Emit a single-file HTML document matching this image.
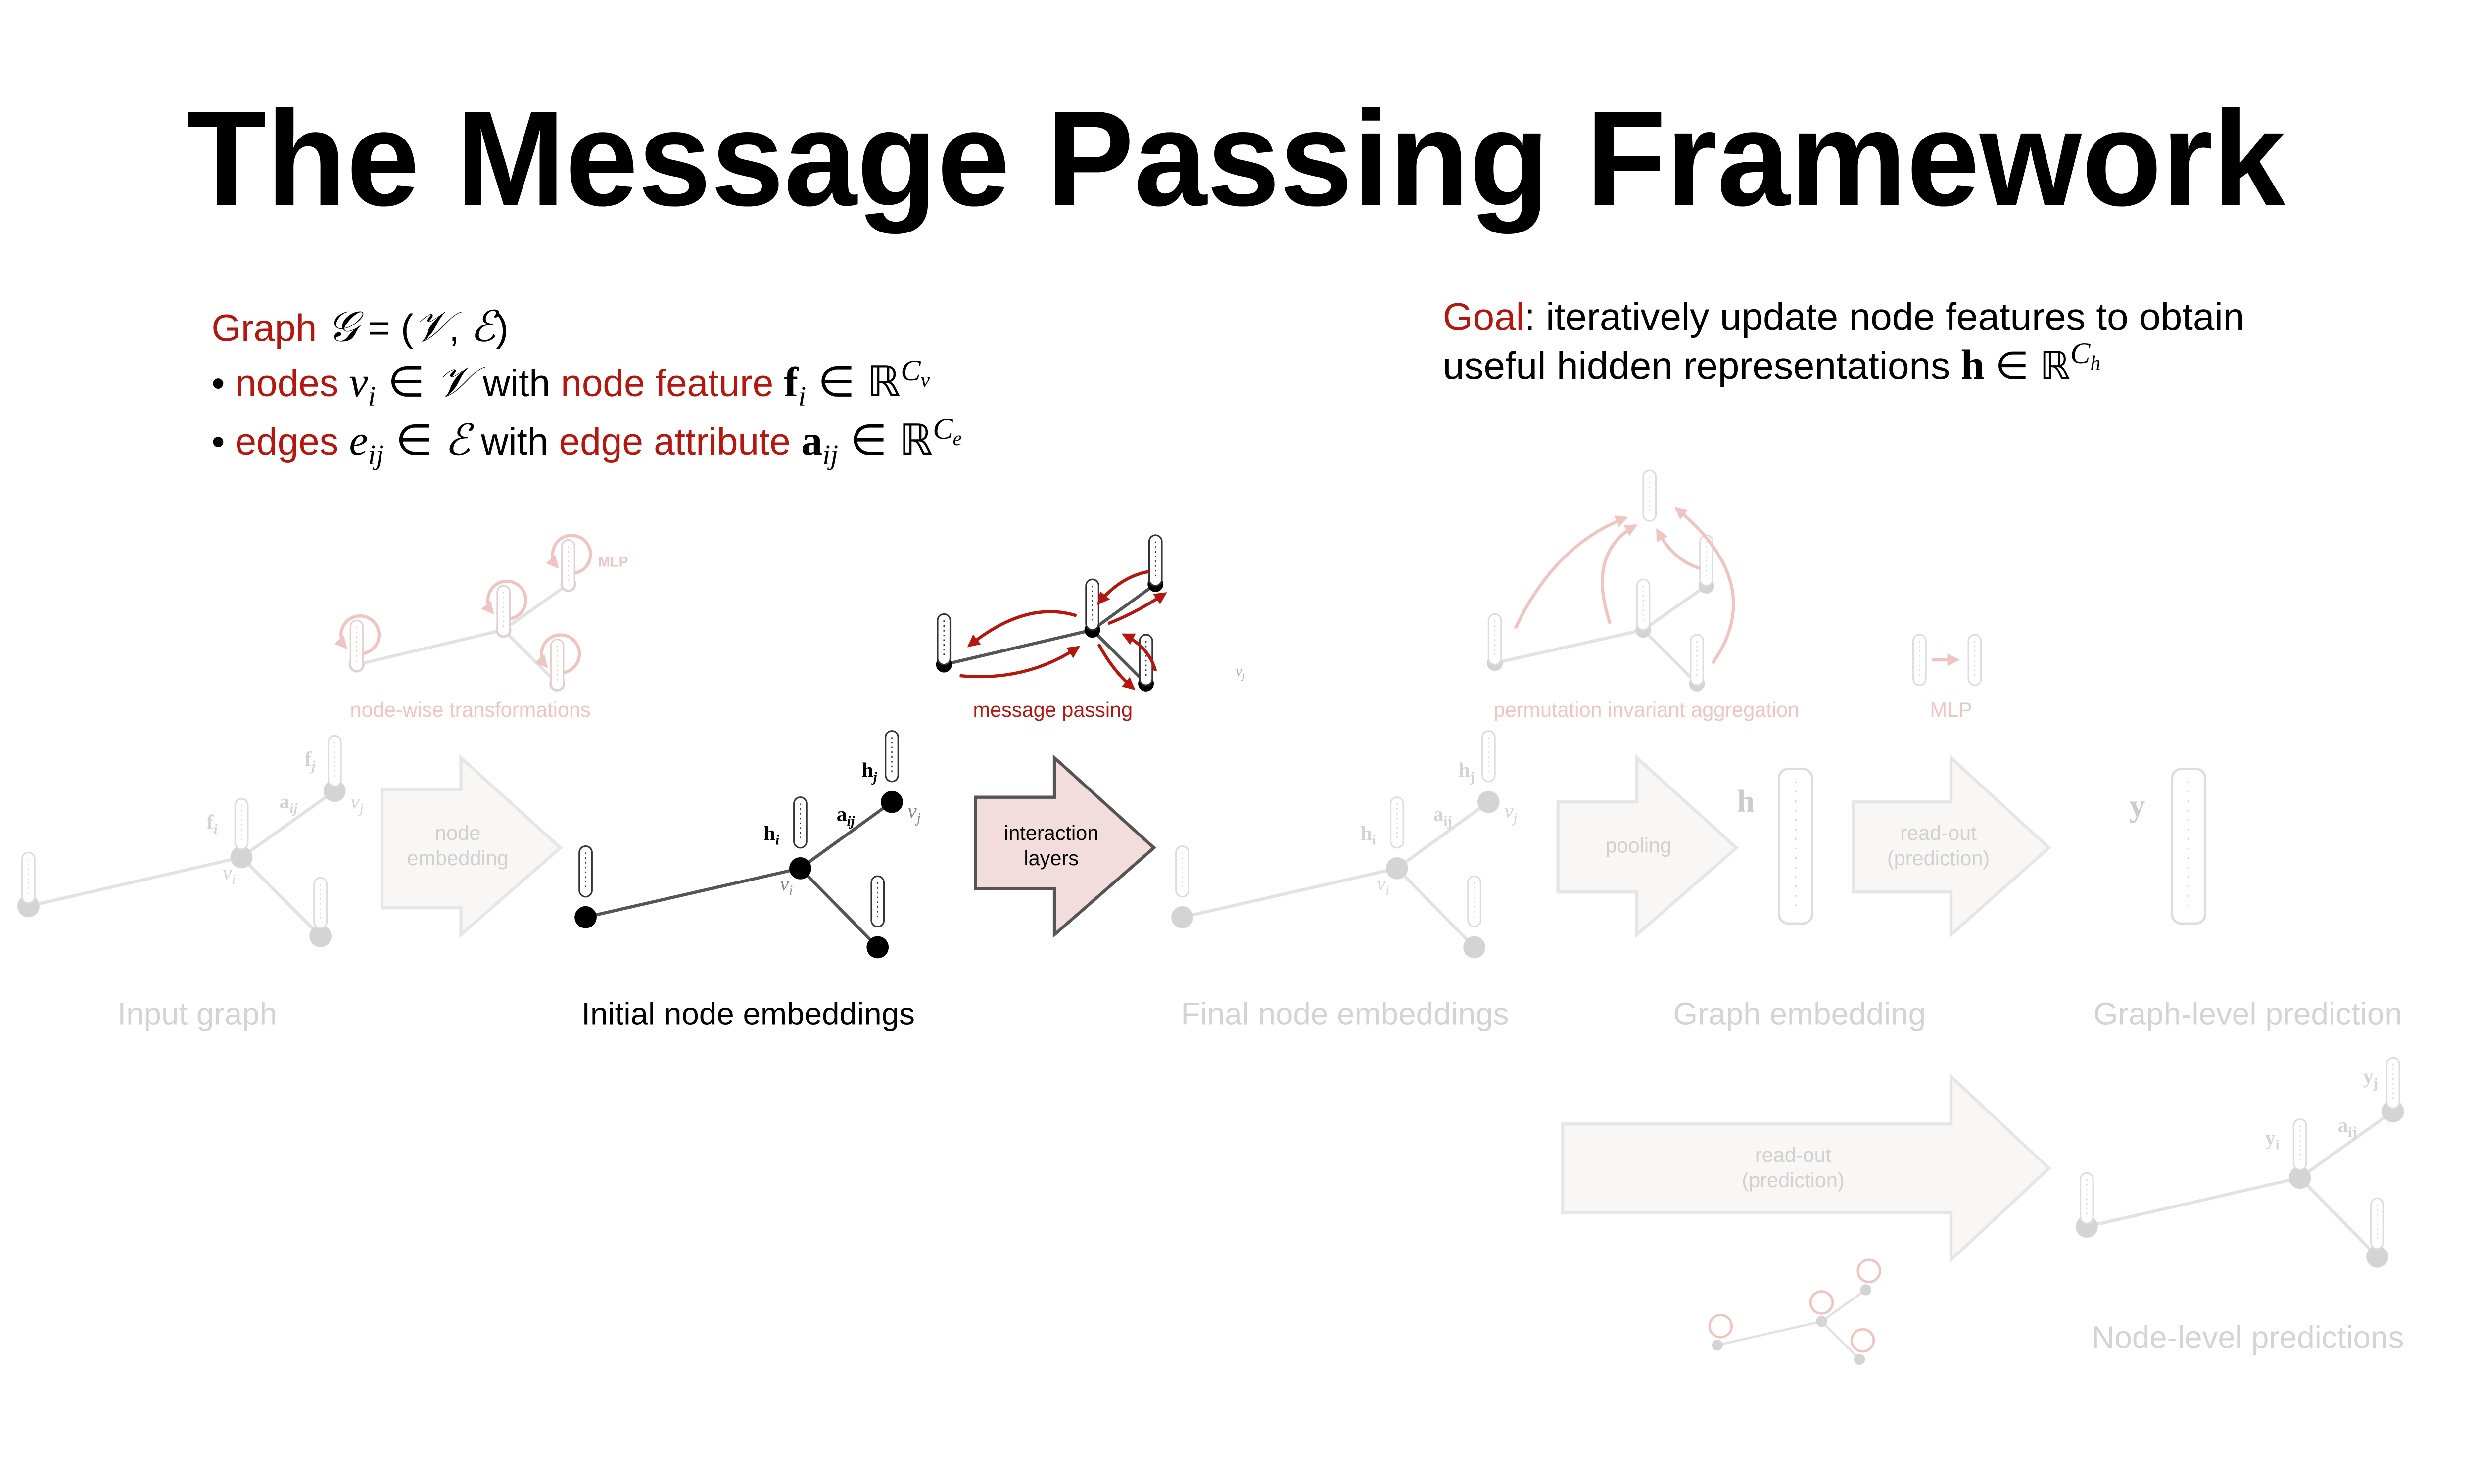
<!DOCTYPE html>
<html><head><meta charset="utf-8"><style>
html,body{margin:0;padding:0;background:#fff;width:5334px;height:3000px;overflow:hidden}
svg{display:block}
.s{font-family:"Liberation Sans",sans-serif}
.m{font-family:"Liberation Serif","DejaVu Serif",serif}
</style></head><body>
<svg width="5334" height="3000" viewBox="0 0 1672 940" preserveAspectRatio="none" xmlns="http://www.w3.org/2000/svg">
<defs>
<g id="bar"><rect x="-4" y="0" width="8" height="32" rx="4" fill="#fff" stroke="currentColor" stroke-width="1"/><line x1="0" y1="4" x2="0" y2="28" stroke="currentColor" stroke-width="0.8" stroke-dasharray="1 2"/></g>
<marker id="ar" viewBox="0 0 10 10" refX="8" refY="5" markerWidth="4" markerHeight="4" orient="auto"><path d="M0,0L10,5L0,10z" fill="#b5170f"/></marker>
<marker id="ap" viewBox="0 0 10 10" refX="8" refY="5" markerWidth="4" markerHeight="4" orient="auto"><path d="M0,0L10,5L0,10z" fill="#f0c4c0"/></marker>
</defs>
<rect width="1672" height="940" fill="#fff"/>
<text x="783" y="130" text-anchor="middle" class="s" font-size="86" font-weight="bold" textLength="1330" lengthAdjust="spacingAndGlyphs">The Message Passing Framework</text>

<g class="s" font-size="24">
<text x="134" y="216"><tspan fill="#b5170f">Graph</tspan> <tspan class="m" font-style="italic" font-size="27">𝒢</tspan> = (<tspan class="m" font-style="italic" font-size="27">𝒱</tspan>, <tspan class="m" font-style="italic" font-size="27">ℰ</tspan>)</text>
<text x="134" y="251">•   <tspan fill="#b5170f">nodes</tspan> <tspan class="m" font-style="italic" font-size="27">v<tspan font-size="18" dy="6">i</tspan></tspan><tspan dy="-6" font-size="27"> ∈ </tspan><tspan class="m" font-style="italic" font-size="27">𝒱 </tspan> with <tspan fill="#b5170f">node feature</tspan> <tspan class="m" font-weight="bold" font-size="27">f</tspan><tspan class="m" font-style="italic" font-size="18" dy="6">i</tspan><tspan dy="-6" font-size="27"> ∈ ℝ</tspan><tspan class="m" font-style="italic" font-size="19" dy="-10">C<tspan font-size="13" dy="4">v</tspan></tspan></text>
<text x="134" y="288">•   <tspan fill="#b5170f">edges</tspan> <tspan class="m" font-style="italic" font-size="27">e<tspan font-size="18" dy="6">ij</tspan></tspan><tspan dy="-6" font-size="27"> ∈ </tspan><tspan class="m" font-style="italic" font-size="27">ℰ </tspan> with <tspan fill="#b5170f">edge attribute</tspan> <tspan class="m" font-weight="bold" font-size="27">a</tspan><tspan class="m" font-style="italic" font-size="18" dy="6">ij</tspan><tspan dy="-6" font-size="27"> ∈ ℝ</tspan><tspan class="m" font-style="italic" font-size="19" dy="-10">C<tspan font-size="13" dy="4">e</tspan></tspan></text>
</g>
<g class="s" font-size="24.5">
<text x="914" y="209"><tspan fill="#b5170f">Goal</tspan>: iteratively update node features to obtain</text>
<text x="914" y="240">useful hidden representations <tspan class="m" font-weight="bold" font-size="27">h</tspan> ∈ ℝ<tspan class="m" font-style="italic" font-size="19" dy="-10">C<tspan font-size="13" dy="4">h</tspan></tspan></text>
</g>

<path d="M242,500H292V480L355,537L292,592V575H242Z" fill="#f8f7f5" stroke="#e6e6e6" stroke-width="2"/>
<text x="290" y="532" text-anchor="middle" class="s" font-size="13" fill="#d0d0d0">node</text>
<text x="290" y="548" text-anchor="middle" class="s" font-size="13" fill="#d0d0d0">embedding</text>
<path d="M618,505H668V480L731,537L668,592V563H618Z" fill="#f2dcdc" stroke="#555" stroke-width="2"/>
<text x="666" y="532" text-anchor="middle" class="s" font-size="13">interaction</text>
<text x="666" y="548" text-anchor="middle" class="s" font-size="13">layers</text>
<path d="M987,508H1037V480L1100,537L1037,592V565H987Z" fill="#f8f7f5" stroke="#e6e6e6" stroke-width="2"/>
<text x="1038" y="540" text-anchor="middle" class="s" font-size="13" fill="#d0d0d0">pooling</text>
<path d="M1174,508H1236V480L1298,537L1236,592V565H1174Z" fill="#f8f7f5" stroke="#e6e6e6" stroke-width="2"/>
<text x="1228" y="532" text-anchor="middle" class="s" font-size="13" fill="#d0d0d0">read-out</text>
<text x="1228" y="548" text-anchor="middle" class="s" font-size="13" fill="#d0d0d0">(prediction)</text>
<path d="M990,712H1236V682L1298,740L1236,798V768H990Z" fill="#f8f7f5" stroke="#e6e6e6" stroke-width="2"/>
<text x="1136" y="736" text-anchor="middle" class="s" font-size="13" fill="#d0d0d0">read-out</text>
<text x="1136" y="752" text-anchor="middle" class="s" font-size="13" fill="#d0d0d0">(prediction)</text>

<g stroke="#e2e2e2" stroke-width="2">
<line x1="18" y1="574" x2="153" y2="543"/><line x1="153" y1="543" x2="212" y2="501"/><line x1="153" y1="543" x2="203" y2="593"/>
</g>
<g fill="#d4d4d4"><circle cx="18" cy="574" r="7"/><circle cx="153" cy="543" r="7"/><circle cx="212" cy="501" r="7"/><circle cx="203" cy="593" r="7"/></g>
<g color="#ddd"><use href="#bar" x="18" y="540"/><use href="#bar" x="153" y="506"/><use href="#bar" x="212" y="466"/><use href="#bar" x="203" y="556"/></g>
<g class="m" fill="#d4d4d4" font-size="13"><text x="131" y="525" font-weight="bold">f<tspan font-size="9" font-style="italic" dy="3">i</tspan></text><text x="193" y="485" font-weight="bold">f<tspan font-size="9" font-style="italic" dy="3">j</tspan></text><text x="177" y="512" font-weight="bold">a<tspan font-size="9" font-style="italic" dy="3">ij</tspan></text><text x="222" y="512" font-style="italic">v<tspan font-size="9" dy="3">j</tspan></text><text x="141" y="557" font-style="italic">v<tspan font-size="9" dy="3">i</tspan></text></g>

<g stroke="#555" stroke-width="2"><line x1="371" y1="581" x2="507" y2="550"/><line x1="507" y1="550" x2="565" y2="508"/><line x1="507" y1="550" x2="556" y2="600"/></g>
<g fill="#000"><circle cx="371" cy="581" r="7"/><circle cx="507" cy="550" r="7"/><circle cx="565" cy="508" r="7"/><circle cx="556" cy="600" r="7"/></g>
<g color="#333"><use href="#bar" x="371" y="536"/><use href="#bar" x="507" y="505"/><use href="#bar" x="565" y="463"/><use href="#bar" x="556" y="555"/></g>
<g class="m" font-size="13"><text x="484" y="532" font-weight="bold">h<tspan font-size="9" font-style="italic" dy="3">i</tspan></text><text x="546" y="492" font-weight="bold">h<tspan font-size="9" font-style="italic" dy="3">j</tspan></text><text x="530" y="520" font-weight="bold">a<tspan font-size="9" font-style="italic" dy="3">ij</tspan></text><text x="575" y="518" font-style="italic" fill="#888">v<tspan font-size="9" dy="3">j</tspan></text><text x="494" y="564" font-style="italic" fill="#888">v<tspan font-size="9" dy="3">i</tspan></text></g>

<g stroke="#e2e2e2" stroke-width="2"><line x1="749" y1="581" x2="885" y2="550"/><line x1="885" y1="550" x2="943" y2="508"/><line x1="885" y1="550" x2="934" y2="600"/></g>
<g fill="#d4d4d4"><circle cx="749" cy="581" r="7"/><circle cx="885" cy="550" r="7"/><circle cx="943" cy="508" r="7"/><circle cx="934" cy="600" r="7"/></g>
<g color="#ddd"><use href="#bar" x="749" y="536"/><use href="#bar" x="885" y="505"/><use href="#bar" x="943" y="463"/><use href="#bar" x="934" y="555"/></g>
<g class="m" fill="#d4d4d4" font-size="13"><text x="862" y="532" font-weight="bold">h<tspan font-size="9" dy="3">i</tspan></text><text x="924" y="492" font-weight="bold">h<tspan font-size="9" dy="3">j</tspan></text><text x="908" y="520" font-weight="bold">a<tspan font-size="9" dy="3">ij</tspan></text><text x="953" y="518" font-style="italic">v<tspan font-size="9" dy="3">j</tspan></text><text x="872" y="564" font-style="italic">v<tspan font-size="9" dy="3">i</tspan></text></g>

<g stroke="#e2e2e2" stroke-width="2"><line x1="226" y1="421" x2="319" y2="399"/><line x1="319" y1="399" x2="360" y2="370"/><line x1="319" y1="399" x2="353" y2="433"/></g>
<g fill="#d4d4d4"><circle cx="226" cy="421" r="5"/><circle cx="319" cy="399" r="5"/><circle cx="360" cy="370" r="5"/><circle cx="353" cy="433" r="5"/></g>
<g color="#e4d0d0"><use href="#bar" x="226" y="393"/><use href="#bar" x="319" y="371"/><use href="#bar" x="360" y="342"/><use href="#bar" x="353" y="405"/></g>
<g fill="none" stroke="#f0c4c0" stroke-width="2" marker-end="url(#ap)">
<path d="M230,414A12,12 0 1 0 219,410"/><path d="M323,392A12,12 0 1 0 312,388"/><path d="M364,363A12,12 0 1 0 353,359"/><path d="M357,426A12,12 0 1 0 346,422"/>
</g>
<text x="379" y="359" class="s" font-size="9" font-weight="bold" fill="#f0c4c0">MLP</text>
<text x="298" y="454" text-anchor="middle" class="s" font-size="13" fill="#f0c4c0">node-wise transformations</text>

<g stroke="#555" stroke-width="2"><line x1="598" y1="421" x2="692" y2="399"/><line x1="692" y1="399" x2="732" y2="370"/><line x1="692" y1="399" x2="726" y2="433"/></g>
<g fill="#000"><circle cx="598" cy="421" r="5"/><circle cx="692" cy="399" r="5"/><circle cx="732" cy="370" r="5"/><circle cx="726" cy="433" r="5"/></g>
<g color="#333"><use href="#bar" x="598" y="389"/><use href="#bar" x="692" y="367"/><use href="#bar" x="732" y="339"/><use href="#bar" x="726" y="402"/></g>
<g fill="none" stroke="#b5170f" stroke-width="2" marker-end="url(#ar)">
<path d="M682,390Q650,380 614,409"/><path d="M608,428Q650,432 683,410"/><path d="M728,362Q710,365 696,382"/><path d="M702,395Q720,388 738,376"/><path d="M696,408Q705,425 718,436"/><path d="M732,425Q728,410 712,402"/>
</g>
<text x="783" y="428" class="m" font-size="9" font-style="italic" fill="#aaa">v<tspan font-size="6" dy="2">j</tspan></text>
<text x="667" y="454" text-anchor="middle" class="s" font-size="13" fill="#b5170f">message passing</text>

<g stroke="#e2e2e2" stroke-width="2"><line x1="947" y1="420" x2="1041" y2="399"/><line x1="1041" y1="399" x2="1081" y2="371"/><line x1="1041" y1="399" x2="1075" y2="433"/></g>
<g fill="#d4d4d4"><circle cx="947" cy="420" r="5"/><circle cx="1041" cy="399" r="5"/><circle cx="1081" cy="371" r="5"/><circle cx="1075" cy="433" r="5"/></g>
<g color="#ddd"><use href="#bar" x="947" y="389"/><use href="#bar" x="1041" y="367"/><use href="#bar" x="1081" y="339"/><use href="#bar" x="1075" y="402"/><use href="#bar" x="1045" y="298"/></g>
<g fill="none" stroke="#f0c4c0" stroke-width="2" marker-end="url(#ap)">
<path d="M960,398Q985,345 1030,328"/><path d="M1020,395Q1005,350 1036,333"/><path d="M1077,360Q1060,355 1050,336"/><path d="M1085,420Q1120,370 1062,322"/>
</g>
<text x="1043" y="454" text-anchor="middle" class="s" font-size="13" fill="#f0c4c0">permutation invariant aggregation</text>
<g color="#ddd"><use href="#bar" x="1216" y="402"/><use href="#bar" x="1251" y="402"/></g>
<line x1="1224" y1="418" x2="1240" y2="418" stroke="#f0c4c0" stroke-width="2" marker-end="url(#ap)"/>
<text x="1236" y="454" text-anchor="middle" class="s" font-size="13" fill="#f0c4c0">MLP</text>

<text x="1106" y="514" text-anchor="middle" class="m" font-size="20" font-weight="bold" fill="#ccc">h</text>
<rect x="1127" y="487" width="21" height="98" rx="6" fill="#fff" stroke="#ddd" stroke-width="1.5"/><line x1="1137.5" y1="495" x2="1137.5" y2="578" stroke="#ccc" stroke-dasharray="1 5"/>
<text x="1354" y="517" text-anchor="middle" class="m" font-size="20" font-weight="bold" fill="#ccc">y</text>
<rect x="1376" y="487" width="21" height="98" rx="6" fill="#fff" stroke="#ddd" stroke-width="1.5"/><line x1="1386.5" y1="495" x2="1386.5" y2="578" stroke="#ccc" stroke-dasharray="1 5"/>

<g stroke="#e2e2e2" stroke-width="2"><line x1="1322" y1="777" x2="1457" y2="746"/><line x1="1457" y1="746" x2="1516" y2="704"/><line x1="1457" y1="746" x2="1506" y2="796"/></g>
<g fill="#d4d4d4"><circle cx="1322" cy="777" r="7"/><circle cx="1457" cy="746" r="7"/><circle cx="1516" cy="704" r="7"/><circle cx="1506" cy="796" r="7"/></g>
<g color="#ddd"><use href="#bar" x="1322" y="743"/><use href="#bar" x="1457" y="709"/><use href="#bar" x="1516" y="670"/><use href="#bar" x="1506" y="759"/></g>
<g class="m" fill="#d4d4d4" font-size="13" font-weight="bold"><text x="1435" y="725">y<tspan font-size="9" dy="3">i</tspan></text><text x="1497" y="686">y<tspan font-size="9" dy="3">j</tspan></text><text x="1481" y="717">a<tspan font-size="9" dy="3">ij</tspan></text></g>
<g stroke="#e2e2e2" stroke-width="1.5"><line x1="1088" y1="852" x2="1154" y2="837"/><line x1="1154" y1="837" x2="1182" y2="817"/><line x1="1154" y1="837" x2="1178" y2="861"/></g>
<g fill="#d4d4d4"><circle cx="1088" cy="852" r="3.5"/><circle cx="1154" cy="837" r="3.5"/><circle cx="1182" cy="817" r="3.5"/><circle cx="1178" cy="861" r="3.5"/></g>
<g fill="none" stroke="#f0c4c0" stroke-width="1.5"><circle cx="1090" cy="840" r="7"/><circle cx="1154" cy="825" r="7"/><circle cx="1184" cy="805" r="7"/><circle cx="1180" cy="849" r="7"/></g>

<g class="s" font-size="20" text-anchor="middle">
<text x="125" y="649" fill="#d4d4d4">Input graph</text>
<text x="474" y="649" fill="#000">Initial node embeddings</text>
<text x="852" y="649" fill="#d4d4d4">Final node embeddings</text>
<text x="1140" y="649" fill="#d4d4d4">Graph embedding</text>
<text x="1424" y="649" fill="#d4d4d4">Graph-level prediction</text>
<text x="1424" y="854" fill="#d4d4d4">Node-level predictions</text>
</g>
</svg>
</body></html>
